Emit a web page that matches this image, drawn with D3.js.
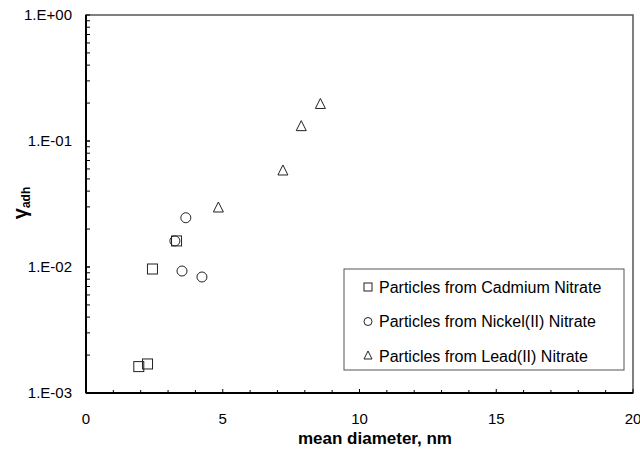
<!DOCTYPE html>
<html>
<head>
<meta charset="utf-8">
<script src="https://cdn.jsdelivr.net/npm/d3@7"></script>
<style>
  body { margin: 0; background: #fff; }
  text { font-family: "Liberation Sans", Arial, sans-serif; }
</style>
</head>
<body>
<div id="chart"></div>
<script>
// data
var cdX = [1.93, 2.25, 2.43, 3.31];
var cdY = [0.00162, 0.00170, 0.00964, 0.0161];
var niX = [3.25, 3.65, 3.51, 4.24];
var niY = [0.0161, 0.0246, 0.00929, 0.00833];
var pbX = [4.84, 7.20, 7.87, 8.57];
var pbY = [0.0294, 0.0578, 0.130, 0.195];

var xTicks = [0, 5, 10, 15, 20];
var yTicks = [1e-3, 1e-2, 1e-1, 1];
var yTickLabels = ["1.E-03", "1.E-02", "1.E-01", "1.E+00"];
var legendLabels = ["Particles from Cadmium Nitrate", "Particles from Nickel(II) Nitrate", "Particles from Lead(II) Nitrate"];

var width = 640, height = 450;
var pLeft = 86, pRight = 633, pTop = 15, pBottom = 393;

var svg = d3.select("#chart")
  .append("svg")
  .attr("width", width)
  .attr("height", height);

var x = d3.scaleLinear().domain([0, 20]).range([pLeft, pRight]);
var y = d3.scaleLog().domain([1e-3, 1]).range([pBottom, pTop]);

// plot frame (top / right)
svg.append("rect")
  .attr("x", pLeft).attr("y", pTop)
  .attr("width", pRight - pLeft).attr("height", pBottom - pTop)
  .attr("fill", "none")
  .attr("stroke", "#555")
  .attr("stroke-width", 1.5);

// x axis, ticks pointing inward
var minorX = d3.range(0, 21, 1);
svg.selectAll(".xminor")
  .data(minorX).enter()
  .append("line")
  .attr("x1", d => x(d)).attr("x2", d => x(d))
  .attr("y1", pBottom).attr("y2", d => d % 5 == 0 ? pBottom - 4 : pBottom - 3)
  .attr("stroke", "#000");

svg.selectAll(".xlab")
  .data(xTicks).enter()
  .append("text")
  .attr("x", d => x(d))
  .attr("y", 424)
  .attr("text-anchor", "middle")
  .attr("font-size", 15)
  .text(d => d);

// y axis minor ticks (log 2..9)
var minorY = [];
[1e-3, 1e-2, 1e-1].forEach(function(dec) {
  for (var k = 1; k <= 10; k++) minorY.push(dec * k);
});
svg.selectAll(".yminor")
  .data(minorY).enter()
  .append("line")
  .attr("x1", pLeft).attr("x2", pLeft + 4)
  .attr("y1", d => y(d)).attr("y2", d => y(d))
  .attr("stroke", "#000");

svg.selectAll(".ylab")
  .data(yTicks).enter()
  .append("text")
  .attr("x", 72)
  .attr("y", d => y(d) + 5)
  .attr("text-anchor", "end")
  .attr("font-size", 15)
  .text((d, i) => yTickLabels[i]);

// axis lines
svg.append("line")
  .attr("x1", pLeft).attr("x2", pLeft).attr("y1", pTop).attr("y2", pBottom)
  .attr("stroke", "#000").attr("stroke-width", 2);
svg.append("line")
  .attr("x1", pLeft).attr("x2", pRight).attr("y1", pBottom).attr("y2", pBottom)
  .attr("stroke", "#000").attr("stroke-width", 2);

// titles
svg.append("text")
  .attr("x", 375).attr("y", 444)
  .attr("text-anchor", "middle")
  .attr("font-size", 17)
  .attr("font-weight", "bold")
  .text("mean diameter, nm");

var yt = svg.append("text")
  .attr("transform", "translate(27,203) rotate(-90)")
  .attr("text-anchor", "middle")
  .attr("font-weight", "bold");
yt.append("tspan").attr("font-size", 20).text("\u03b3");
yt.append("tspan").attr("font-size", 12).attr("dy", 3).text("adh");

// markers
function square(g, cx, cy) {
  g.append("rect")
    .attr("x", cx - 5).attr("y", cy - 5)
    .attr("width", 10).attr("height", 10)
    .attr("fill", "none").attr("stroke", "#222").attr("stroke-width", 1);
}
function circle(g, cx, cy) {
  g.append("circle")
    .attr("cx", cx).attr("cy", cy).attr("r", 5)
    .attr("fill", "none").attr("stroke", "#222").attr("stroke-width", 1);
}
function triangle(g, cx, cy) {
  g.append("path")
    .attr("d", "M" + cx + "," + (cy - 6) + "L" + (cx + 5) + "," + (cy + 4) + "L" + (cx - 5) + "," + (cy + 4) + "Z")
    .attr("fill", "none").attr("stroke", "#222").attr("stroke-width", 1);
}

var pts = svg.append("g");
niX.forEach((d, i) => circle(pts, x(d), y(niY[i])));
cdX.forEach((d, i) => square(pts, x(d), y(cdY[i])));
pbX.forEach((d, i) => triangle(pts, x(d), y(pbY[i])));

// legend
var lg = svg.append("g");
lg.append("rect")
  .attr("x", 344).attr("y", 269)
  .attr("width", 280).attr("height", 101)
  .attr("fill", "#fff").attr("stroke", "#555").attr("stroke-width", 1);

legendLabels.forEach(function(lab, i) {
  var ly = 287 + i * 34.5;
  var m = lg.append("g");
  if (i == 0) m.append("rect").attr("x", 364).attr("y", ly - 4).attr("width", 8).attr("height", 8)
    .attr("fill", "none").attr("stroke", "#222");
  if (i == 1) m.append("circle").attr("cx", 368).attr("cy", ly).attr("r", 4)
    .attr("fill", "none").attr("stroke", "#222");
  if (i == 2) m.append("path").attr("d", "M368," + (ly - 5) + "L372," + (ly + 3) + "L364," + (ly + 3) + "Z")
    .attr("fill", "none").attr("stroke", "#222");
  lg.append("text")
    .attr("x", 379).attr("y", ly + 5.5)
    .attr("font-size", 16)
    .text(lab);
});
</script>
</body>
</html>
